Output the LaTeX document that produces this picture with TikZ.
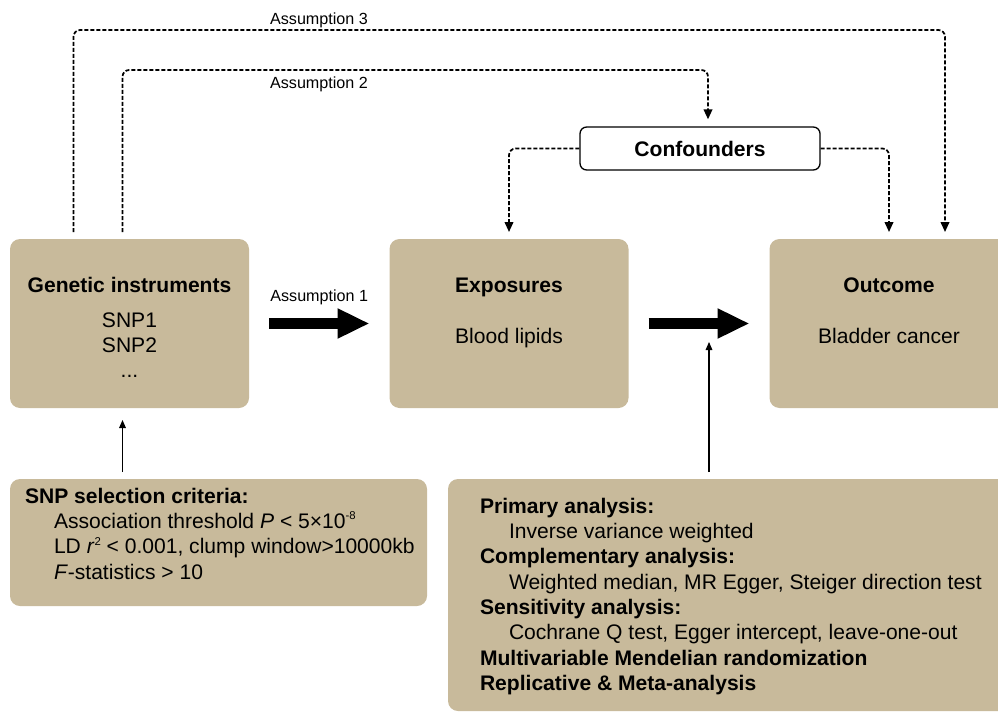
\documentclass[tikz,border=0pt]{standalone}
\usepackage{fontspec}
\setmainfont{Liberation Sans}
\usetikzlibrary{
	arrows.meta,
	positioning
}
\definecolor{boxtan}{RGB}{200,186,155}
\newcommand{\smallsup}[1]{\raisebox{0.42em}{\fontsize{8.5}{8.5}\selectfont #1}}
\tikzset{
	MR-Box/.style={rectangle,fill=boxtan,rounded corners=7.5pt,inner sep=0pt,outer sep=0pt},
	MR-Frame/.style={rectangle,draw,line width=1pt,fill=white,rounded corners=5pt,inner sep=0pt,
		minimum width=180pt,minimum height=32.25pt,font=\bfseries\fontsize{15.8}{19}\selectfont},
	MR-Text/.style={inner sep=0pt,outer sep=0pt,font=\fontsize{15.8}{19}\selectfont},
	MR-Head/.style={MR-Text,font=\bfseries\fontsize{15.8}{19}\selectfont},
	MR-Label/.style={inner sep=0pt,outer sep=0pt,font=\fontsize{12.1}{14}\selectfont},
	MR-Big/.style={-{Triangle[length=24pt,width=21pt]},line width=8.25pt,shorten <=15pt,shorten >=15pt},
	MR-Arrow/.style={-{Triangle[length=6pt,width=5pt]},line width=0.8pt},
	MR-Dash/.style={-{Triangle[length=7.5pt,width=6.5pt]},line width=1.3pt,dash pattern=on 3pt off 1.5pt,
		rounded corners=5pt,shorten >=5.25pt}
}

\begin{document}
\begin{tikzpicture}[x=0.75pt,y=-0.75pt]
	\useasboundingbox (0,0) rectangle (998,713);
	% boxes
	\node [MR-Box,minimum width=179.25pt,minimum height=126.75pt] (genetic) at (129.5,323.5) {};
	\node [MR-Box,minimum width=179.25pt,minimum height=126.75pt] (exposure) at (509,323.5) {};
	\node [MR-Box,minimum width=179.25pt,minimum height=126.75pt] (outcome) at (889,323.5) {};
	\node [MR-Box,minimum width=312.75pt,minimum height=95.25pt] (snpbox) at (218.5,542.5) {};
	\node [MR-Box,minimum width=421.5pt,minimum height=174pt] (analysisbox) at (729,595) {};
	\node [MR-Frame] (confounders) at (700,148.5) {Confounders};
	% texts in the boxes
	\node [MR-Head,anchor=base] (genetic-title) at (129.5,292) {Genetic instruments};
	\node [MR-Text,anchor=north,align=center] (genetic-snps) at (129.5,312.5) {SNP1\\SNP2\\...};
	\node [MR-Head,anchor=base] (exposure-title) at (509,292) {Exposures};
	\node [MR-Text,anchor=base] (exposure-name) at (509,343) {Blood lipids};
	\node [MR-Head,anchor=base] (outcome-title) at (889,292) {Outcome};
	\node [MR-Text,anchor=base] (outcome-name) at (889,343) {Bladder cancer};
	\node [MR-Text,anchor=north west,align=left] (snp-criteria) at (25,488) {\textbf{SNP selection criteria:}\\
		\hspace*{21.75pt}Association threshold \textit{P} < 5×10\smallsup{-8}\\
		\hspace*{21.75pt}LD \textit{r}\smallsup{2} < 0.001, clump window>10000kb\\
		\hspace*{21.75pt}\textit{F}-statistics > 10};
	\node [MR-Text,anchor=north west,align=left] (analysis-list) at (480,498) {\textbf{Primary analysis:}\\
		\hspace*{21.75pt}Inverse variance weighted\\
		\textbf{Complementary analysis:}\\
		\hspace*{21.75pt}Weighted median, MR Egger, Steiger direction test\\
		\textbf{Sensitivity analysis:}\\
		\hspace*{21.75pt}Cochrane Q test, Egger intercept, leave-one-out\\
		\textbf{Multivariable Mendelian randomization}\\
		\textbf{Replicative \& Meta-analysis}};
	% causal path
	\draw [MR-Big] (genetic.east) -- (exposure.west)
		node [MR-Label,midway,anchor=base,yshift=16.5pt] (assume1) {Assumption 1};
	\draw [MR-Big] (exposure.east) -- (outcome.west);
	\coordinate (gen-feed) at (122.5,420);
	\draw [MR-Arrow,shorten <=5.25pt,shorten >=9pt] (snpbox.north -| gen-feed) -- (genetic.south -| gen-feed);
	\coordinate (effect) at (709,342);
	\draw [MR-Arrow,shorten <=5.25pt] (analysisbox.north -| effect) -- (effect);
	% assumptions 2 and 3
	\coordinate (a3-left) at (73.5,30);
	\coordinate (a3-right) at (945,30);
	\draw [MR-Dash,shorten <=5.25pt] (genetic.north -| a3-left) -- (a3-left) -- (a3-right) -- (outcome.north -| a3-right);
	\coordinate (a2-left) at (122.5,70);
	\coordinate (a2-right) at (708,70);
	\draw [MR-Dash,shorten <=5.25pt] (genetic.north -| a2-left) -- (a2-left) -- (a2-right) -- (confounders.north -| a2-right);
	\draw [MR-Dash] (confounders.west) -| (exposure.north);
	\draw [MR-Dash] (confounders.east) -| (outcome.north);
	\node [MR-Label,anchor=base] (assume3) at (319,25) {Assumption 3};
	\node [MR-Label,anchor=base] (assume2) at (319,89) {Assumption 2};
\end{tikzpicture}
\end{document}
